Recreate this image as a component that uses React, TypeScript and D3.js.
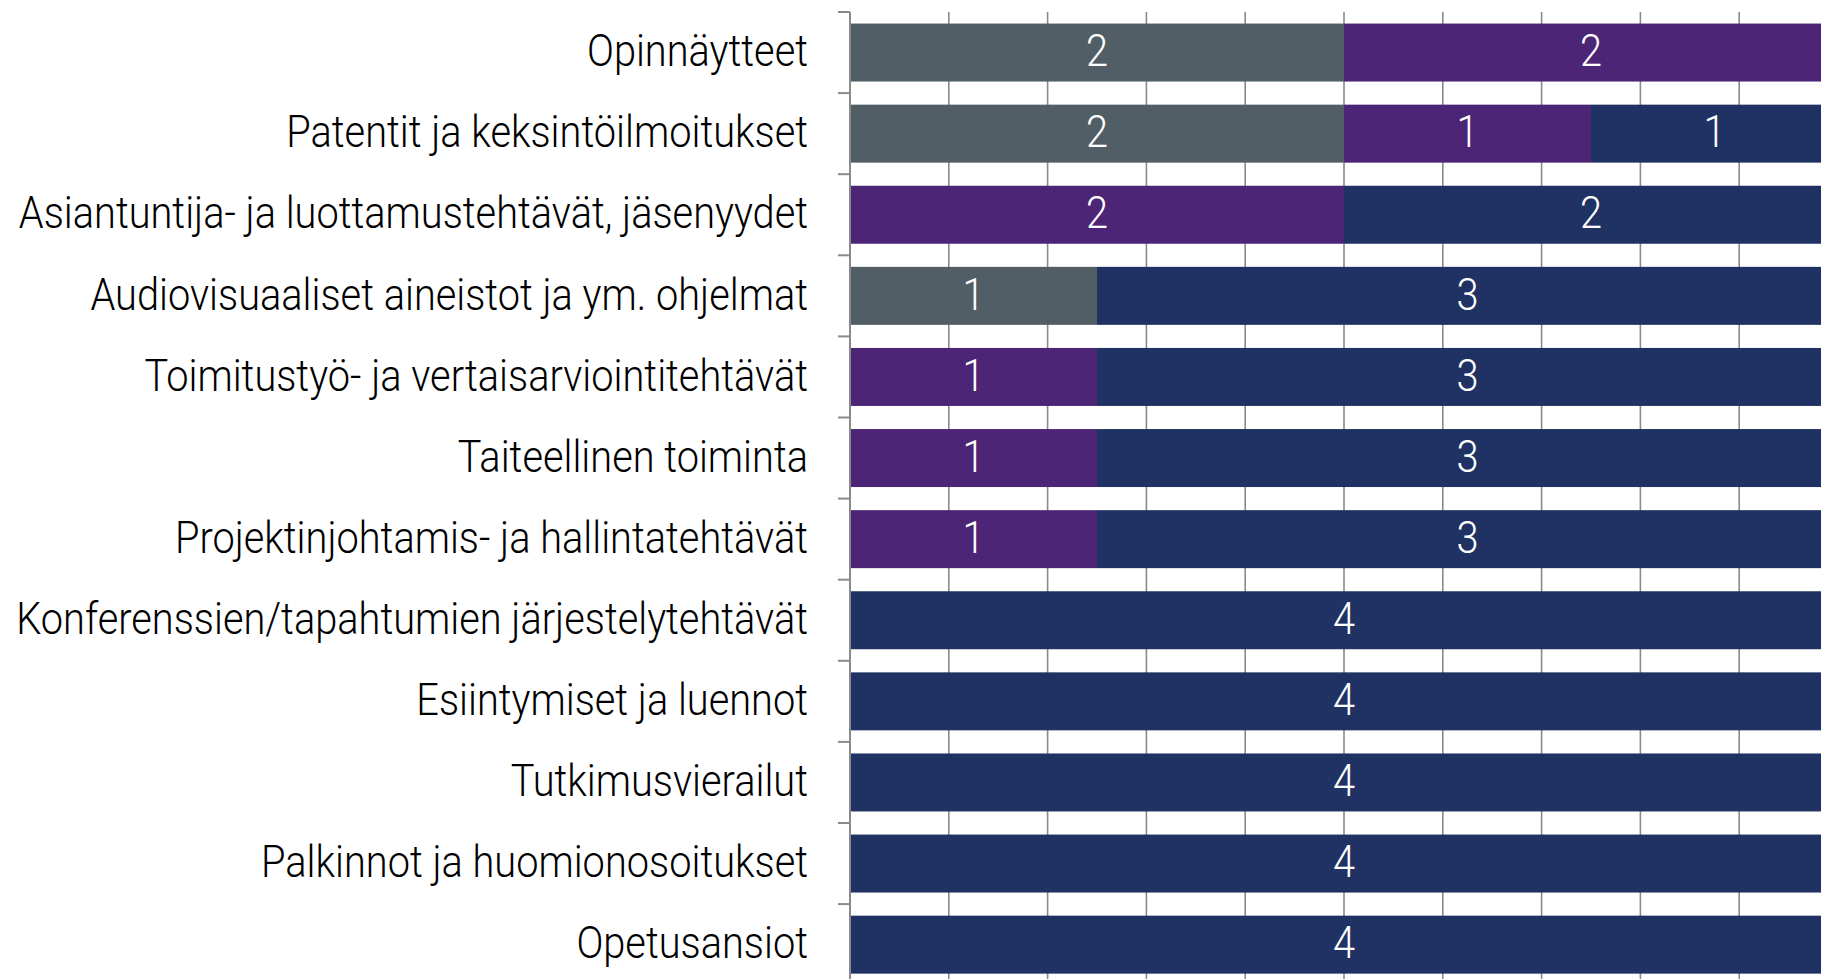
import React, { useEffect, useRef } from 'react';
import * as d3 from 'd3';

const categories = [
  'Opinnäytteet',
  'Patentit ja keksintöilmoitukset',
  'Asiantuntija- ja luottamustehtävät, jäsenyydet',
  'Audiovisuaaliset aineistot ja ym. ohjelmat',
  'Toimitustyö- ja vertaisarviointitehtävät',
  'Taiteellinen toiminta',
  'Projektinjohtamis- ja hallintatehtävät',
  'Konferenssien/tapahtumien järjestelytehtävät',
  'Esiintymiset ja luennot',
  'Tutkimusvierailut',
  'Palkinnot ja huomionosoitukset',
  'Opetusansiot',
];

// three stacked series, left to right
const seriesGray = [2, 2, 0, 1, 0, 0, 0, 0, 0, 0, 0, 0];
const seriesPurple = [2, 1, 2, 0, 1, 1, 1, 0, 0, 0, 0, 0];
const seriesNavy = [0, 1, 2, 3, 3, 3, 3, 4, 4, 4, 4, 4];

const xTicks = d3.range(0, 4.01, 0.4);

const App = () => {
  const svgRef = useRef<SVGSVGElement>(null);

  useEffect(() => {
    const width = 1821;
    const height = 979;
    const axisX = 850;
    const labelRight = 808;
    const font = 'Roboto, "Liberation Sans", sans-serif';

    const svg = d3.select(svgRef.current);
    svg.selectAll('*').remove();

    const x = d3.scaleLinear().domain([0, 4]).range([axisX, 1838]);
    const y = d3.scaleBand<string>()
      .domain(categories)
      .range([12, 12 + 81.1 * categories.length])
      .paddingInner(0.285)
      .paddingOuter(0.1425);

    const rows = categories.map((c, i) => ({
      cat: c,
      gray: seriesGray[i],
      purple: seriesPurple[i],
      navy: seriesNavy[i],
    }));
    const keys = ['gray', 'purple', 'navy'];
    const color = d3.scaleOrdinal<string, string>()
      .domain(keys)
      .range(['#525e66', '#4c2577', '#203263']);
    const stacked = d3.stack<any>().keys(keys)(rows);

    svg.append('rect')
      .attr('width', width)
      .attr('height', height)
      .attr('fill', '#fff');

    // gridlines
    svg.append('g')
      .selectAll('line')
      .data(xTicks)
      .join('line')
      .attr('x1', d => x(d))
      .attr('x2', d => x(d))
      .attr('y1', 12)
      .attr('y2', height)
      .attr('stroke', '#8a8a8a')
      .attr('stroke-width', 1.6);

    // bars
    svg.append('g')
      .selectAll('g')
      .data(stacked)
      .join('g')
      .attr('fill', d => color(d.key))
      .selectAll('rect')
      .data(d => d.filter(s => s[1] - s[0] > 0))
      .join('rect')
      .attr('x', d => x(d[0]))
      .attr('width', d => x(d[1]) - x(d[0]))
      .attr('y', d => y(d.data.cat)!)
      .attr('height', y.bandwidth());

    // category axis
    const bandEdges = categories.map(c => y(c)! - (y.step() - y.bandwidth()) / 2);
    svg.append('line')
      .attr('x1', axisX)
      .attr('x2', axisX)
      .attr('y1', 12)
      .attr('y2', height)
      .attr('stroke', '#8a8a8a')
      .attr('stroke-width', 2);
    svg.append('g')
      .selectAll('line')
      .data(bandEdges)
      .join('line')
      .attr('x1', axisX - 12)
      .attr('x2', axisX)
      .attr('y1', d => d)
      .attr('y2', d => d)
      .attr('stroke', '#8a8a8a')
      .attr('stroke-width', 2);

    // category labels
    const labels = svg.append('g')
      .selectAll('text')
      .data(categories)
      .join('text')
      .attr('text-anchor', 'end')
      .attr('dy', '0.31em')
      .attr('font-family', font)
      .attr('font-weight', 300)
      .attr('font-size', 44)
      .attr('fill', '#000')
      .text(d => d);

    let maxLen = 0;
    labels.each(function () {
      maxLen = Math.max(maxLen, (this as SVGTextElement).getComputedTextLength());
    });
    const sx = maxLen > 0 ? 792 / maxLen : 1;
    labels.attr('transform', d => `translate(${labelRight},${y(d)! + y.bandwidth() / 2}) scale(${sx},1)`);

    // value labels
    svg.append('g')
      .selectAll('g')
      .data(stacked)
      .join('g')
      .selectAll('text')
      .data(d => d.filter(s => s[1] - s[0] > 0))
      .join('text')
      .attr('text-anchor', 'middle')
      .attr('dy', '0.31em')
      .attr('font-family', font)
      .attr('font-weight', 300)
      .attr('font-size', 44)
      .attr('fill', '#fff')
      .attr('transform', d => `translate(${x((d[0] + d[1]) / 2)},${y(d.data.cat)! + y.bandwidth() / 2}) scale(${sx},1)`)
      .text(d => d[1] - d[0]);
  }, []);

  return (
    <svg
      ref={svgRef}
      width={1821}
      height={979}
      style={{ position: 'absolute', left: 0, top: 0, display: 'block' }}
    />
  );
};

export default App;
